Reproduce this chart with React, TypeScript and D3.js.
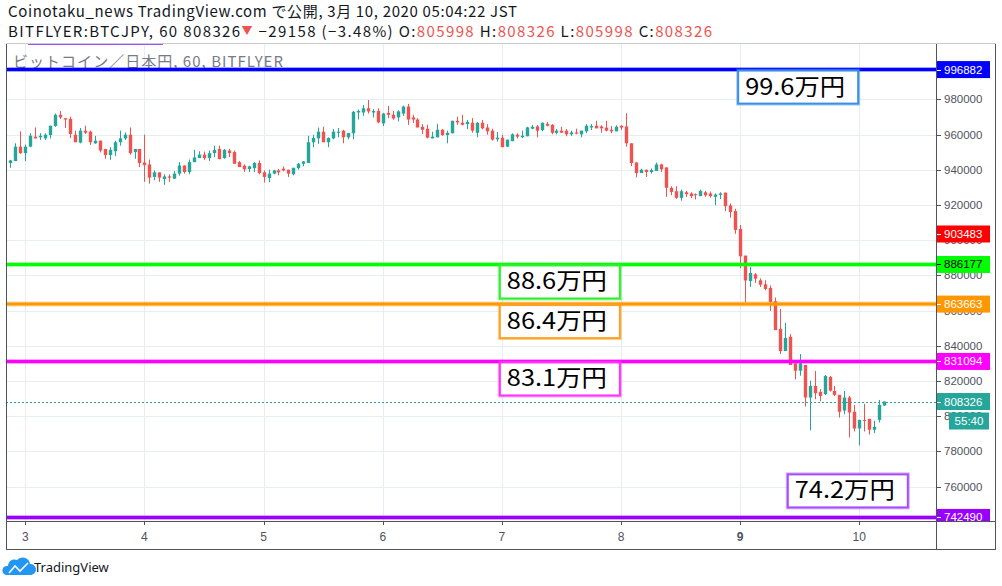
import { useMemo } from 'react';
import * as d3 from 'd3';

// hourly BTC/JPY candles [open, high, low, close], first bar = 2020-03-02 21:00 JST
const firstBar = Date.UTC(2020, 2, 2, 21);
const candles: [number, number, number, number][] = [
  [943800, 945600, 941100, 945300], [944900, 955000, 944900, 953100], [953100, 961800, 949000, 949400],
  [949400, 954300, 944900, 953100], [953100, 960700, 952800, 959300], [958800, 964000, 957800, 957800],
  [958400, 960800, 956900, 959300], [957800, 960700, 956900, 959900], [959700, 965000, 957800, 965000],
  [964800, 971900, 964400, 971200], [971200, 973400, 968900, 969700], [969300, 969300, 963700, 968500],
  [968900, 970100, 958000, 960300], [959900, 962200, 955600, 955600], [955400, 963700, 955000, 962200],
  [962200, 965000, 960300, 961000], [961600, 962200, 954100, 955600], [955000, 959200, 954700, 956500],
  [956500, 956500, 949800, 950900], [951800, 951800, 946200, 948300], [948300, 952800, 945600, 951300],
  [950500, 956500, 947700, 955600], [955600, 962200, 953700, 957800], [957800, 961200, 956900, 959900],
  [959900, 964000, 948500, 949400], [950000, 951800, 946200, 951800], [951800, 951800, 941500, 943800],
  [944100, 959900, 933100, 942600], [943000, 945800, 932100, 935500], [935900, 939600, 934000, 938500],
  [938500, 938500, 933100, 935500], [934700, 937400, 931400, 936200], [936200, 937400, 933100, 935500],
  [934900, 939300, 934700, 937800], [937800, 944300, 936600, 942400], [942400, 942400, 937800, 938700],
  [938700, 945800, 937400, 944300], [944300, 951300, 944300, 947000], [946600, 950500, 946600, 948600],
  [948600, 950300, 945600, 946600], [946600, 950900, 944900, 949400], [949400, 953700, 947100, 951300],
  [951800, 953700, 946000, 946000], [946600, 951800, 946200, 951300], [950900, 951800, 947100, 949400],
  [950000, 950900, 943400, 943400], [944300, 944900, 941500, 941500], [942300, 943000, 938700, 940200],
  [940400, 942300, 938700, 941900], [940900, 944300, 938700, 943800], [943800, 945300, 937400, 938100],
  [938500, 939600, 932700, 935900], [935300, 940000, 932900, 937800], [937800, 940000, 937400, 939600],
  [939600, 940400, 936800, 938500], [940600, 941900, 939100, 939600], [940000, 940000, 935900, 937800],
  [937400, 941100, 936800, 941100], [940900, 943800, 940000, 943400], [943400, 944900, 941900, 944700],
  [943800, 959300, 943800, 955600], [955600, 959900, 952800, 958000], [957800, 964000, 954700, 961600],
  [961600, 964400, 955600, 955600], [955600, 958400, 952800, 958000], [957800, 963100, 957300, 961600],
  [961000, 963700, 958400, 961600], [962200, 962700, 955000, 958400], [958400, 960800, 957300, 960800],
  [960700, 973400, 957300, 972900], [972500, 974200, 968500, 973400], [972500, 976800, 970600, 974900],
  [974900, 979600, 971900, 973100], [972500, 974400, 969700, 973400], [973400, 974900, 966300, 966900],
  [966300, 972300, 964800, 971900], [972300, 976200, 969300, 971200], [971200, 973400, 968400, 969100],
  [969700, 973800, 967400, 973100], [971900, 976400, 970600, 975900], [975900, 977400, 965500, 968500],
  [969700, 971200, 966500, 968500], [968500, 969300, 964000, 964000], [964400, 965900, 960300, 962700],
  [963300, 965500, 957800, 958200], [957800, 961600, 957800, 958800], [958400, 966100, 958400, 962700],
  [962700, 963100, 959200, 959700], [959700, 962200, 955000, 961000], [960700, 967800, 960700, 967800],
  [967800, 970100, 965500, 966900], [966700, 971200, 965200, 965500], [965900, 968200, 963100, 967200],
  [966700, 969300, 961000, 962200], [961000, 967000, 958400, 966700], [966700, 968200, 962900, 963500],
  [964000, 965900, 959900, 961800], [962200, 963300, 956500, 957100], [957300, 961400, 956000, 958200],
  [958200, 959900, 952800, 952800], [953100, 957100, 952800, 957100], [956200, 960700, 956200, 960100],
  [959900, 960700, 957800, 958800], [958400, 962200, 958000, 959300], [959000, 964400, 959000, 964000],
  [963300, 965500, 962900, 964400], [964600, 965400, 958400, 962200], [962500, 966700, 961800, 966700],
  [966100, 967200, 964600, 965000], [965500, 965900, 960100, 961000], [961000, 963100, 960100, 962200],
  [962200, 964400, 961000, 961000], [962200, 963100, 959000, 960100], [960100, 962200, 959200, 961200],
  [961200, 963300, 960100, 960500], [960100, 962200, 958400, 962200], [961800, 965900, 960700, 965000],
  [964000, 965900, 962500, 964800], [965000, 967800, 963500, 963500], [964600, 965200, 961000, 963500],
  [963900, 967800, 961800, 962200], [962700, 964800, 960700, 961800], [961800, 965200, 961800, 964400],
  [965000, 965200, 962500, 963900], [964600, 972100, 953100, 955000], [955000, 955000, 942100, 943800],
  [944100, 944100, 935700, 938100], [938100, 940600, 938100, 940000], [940000, 940000, 935900, 938700],
  [938700, 940800, 937800, 939800], [939300, 944100, 939300, 943000], [943000, 943400, 938700, 940200],
  [941300, 941300, 924600, 929700], [929700, 930600, 925500, 927400], [927800, 930600, 923500, 924000],
  [924000, 928700, 922400, 927800], [927200, 928000, 924600, 926100], [926500, 927200, 923900, 925000],
  [926100, 926500, 923100, 925500], [925000, 928700, 925000, 928000], [927200, 928000, 924600, 925500],
  [926500, 927600, 924200, 925000], [924600, 926500, 919900, 925900], [925700, 927200, 923300, 926500],
  [927000, 927000, 916500, 919300], [919700, 920800, 912800, 916000], [916500, 917800, 903600, 905800],
  [906400, 908600, 884000, 890800], [891200, 891200, 864900, 877100], [876800, 884700, 873400, 881300],
  [880600, 881300, 875700, 878100], [877200, 878300, 873400, 874700], [874900, 877200, 871500, 872300],
  [872800, 874200, 859800, 864900], [865300, 867400, 848900, 848900], [849600, 860900, 835300, 837000],
  [837000, 853000, 837000, 844500], [845100, 846600, 829100, 829100], [830000, 830000, 820900, 825800],
  [825800, 835300, 823000, 830000], [829100, 829100, 805500, 810600], [810600, 820200, 791900, 817200],
  [817200, 825700, 809600, 813000], [813800, 815300, 808500, 811500], [812500, 823400, 812100, 822800],
  [822300, 822800, 814000, 814500], [814300, 817200, 811500, 812100], [812100, 812100, 799200, 802500],
  [803200, 814300, 801100, 810600], [810600, 811500, 787900, 802100], [802500, 806400, 791300, 793000],
  [793000, 797900, 783400, 797900], [797900, 807000, 791300, 797400], [798500, 798500, 789600, 792300],
  [792300, 797400, 790400, 794000], [797900, 809200, 796400, 806400], [805998, 808326, 805998, 808326],
];

// horizontal levels drawn on the chart
const levelPrices = [996882, 886177, 863663, 831094, 742490];
const levelColors = ['#0000ff', '#00ff00', '#ff9800', '#ff00ff', '#9900ff'];
const levelTextColors = ['#ffffff', '#000000', '#ffffff', '#ffffff', '#ffffff'];

// text notes: label, anchor time (JST as UTC), anchor price
const noteTexts = ['99.6万円', '88.6万円', '86.4万円', '83.1万円', '74.2万円'];
const noteTimes = [Date.UTC(2020, 2, 9, 0), Date.UTC(2020, 2, 7, 0), Date.UTC(2020, 2, 7, 0), Date.UTC(2020, 2, 7, 0), Date.UTC(2020, 2, 9, 10)];
const notePrices = [996882, 886177, 863663, 831094, 767500];
const noteBorders = ['#3d8ee6', '#2ef02e', '#ffa126', '#ff33ff', '#a64dff'];

const priceTicks = d3.range(760000, 980001, 20000);
const lastPrice = 808326;
const prevMark = 903483;
const countdown = '55:40';

const UP = '#26a69a';
const DOWN = '#ef5350';
const GRID = '#e6edf3';
const FRAME = '#50535e';
const JP = "'Noto Sans CJK JP', 'Noto Sans', sans-serif";
const AX = "'Liberation Sans', Arial, sans-serif";

export default function App() {
  const L = 6, R = 936, T = 43, B = 521, AXB = 549, RR = 996;

  const x = useMemo(() => d3.scaleUtc()
    .domain([Date.UTC(2020, 2, 3), Date.UTC(2020, 2, 10)])
    .range([25.3, 859.3]), []);
  const y = useMemo(() => d3.scaleLinear()
    .domain([760000, 980000])
    .range([486.6, 99.3]), []);

  const days = d3.utcDay.range(Date.UTC(2020, 2, 3), Date.UTC(2020, 2, 11));
  const dayFmt = d3.utcFormat('%-d');

  const bars = candles.map((c, i) => ({ t: firstBar + i * 3600000, o: c[0], h: c[1], l: c[2], c: c[3] }));

  const axisLabel = (price: number, fill: string, txt: string, key: string) => {
    const cy = y(price);
    return (
      <g key={key}>
        <rect x={R + 1} y={cy - 8.5} width={53} height={17} fill={fill} />
        <line x1={R + 1} x2={R + 5} y1={Math.round(cy) + 0.5} y2={Math.round(cy) + 0.5} stroke={txt} />
        <text x={R + 8} y={cy} dy="0.35em" fontSize={11.5} fontFamily={AX} fill={txt}>{price}</text>
      </g>
    );
  };

  return (
    <svg width={1002} height={586} style={{ position: 'absolute', left: 0, top: 0, background: '#fff' }}>
      <defs>
        <clipPath id="plot"><rect x={L} y={T} width={R - L} height={B - T} /></clipPath>
        <clipPath id="axis"><rect x={R + 1} y={T} width={RR - R - 1} height={B - T} /></clipPath>
      </defs>
      <rect width={1002} height={586} fill="#fff" />

      {/* header */}
      <text x={8} y={17} fontSize={15} fontFamily={JP} fill="#131722" textLength={509} lengthAdjust="spacing">
        Coinotaku_news TradingView.com で公開, 3月 10, 2020 05:04:22 JST
      </text>
      <text x={8} y={37} fontSize={15} fontFamily={JP} fill="#131722" textLength={704} lengthAdjust="spacing">
        BITFLYER:BTCJPY, 60 808326<tspan fill={DOWN} fontSize={11} dy={-2}>▼</tspan>
        <tspan dy={2}> −29158 (−3.48%) O:</tspan><tspan fill={DOWN}>805998</tspan> H:<tspan fill={DOWN}>808326</tspan> L:<tspan fill={DOWN}>805998</tspan> C:<tspan fill={DOWN}>808326</tspan>
      </text>

      {/* grid */}
      <g clipPath="url(#plot)">
        {priceTicks.map(p => (
          <line key={p} x1={L} x2={R} y1={Math.round(y(p)) + 0.5} y2={Math.round(y(p)) + 0.5} stroke={GRID} />
        ))}
        {days.map(d => (
          <line key={+d} x1={Math.round(x(d)) + 0.5} x2={Math.round(x(d)) + 0.5} y1={T} y2={B} stroke={GRID} />
        ))}
      </g>

      <text x={13} y={67} fontSize={15} fontFamily={JP} fill="#787b86" textLength={270} lengthAdjust="spacing">ビットコイン／日本円, 60, BITFLYER</text>

      {/* candles */}
      <g clipPath="url(#plot)">
        {bars.map(b => {
          const cx = x(b.t);
          const col = b.c >= b.o ? UP : DOWN;
          const top = y(Math.max(b.o, b.c));
          const bot = y(Math.min(b.o, b.c));
          const wx = Math.round(cx) + 0.5;
          return (
            <g key={b.t}>
              <line x1={wx} x2={wx} y1={y(b.h)} y2={y(b.l)} stroke={col} />
              <rect x={wx - 1.7} y={top} width={3.4} height={Math.max(1, bot - top)} fill={col} />
            </g>
          );
        })}
      </g>

      {/* levels */}
      <g clipPath="url(#plot)">
        {levelPrices.map((p, i) => (
          <g key={p}>
            <line x1={L} x2={R} y1={y(p)} y2={y(p)} stroke={levelColors[i]} strokeOpacity={0.35} strokeWidth={5} />
            <line x1={L} x2={R} y1={y(p)} y2={y(p)} stroke={levelColors[i]} strokeWidth={3} />
          </g>
        ))}
        <line x1={L} x2={R} y1={Math.round(y(lastPrice)) + 0.5} y2={Math.round(y(lastPrice)) + 0.5} stroke={UP} strokeDasharray="2 2" />
      </g>

      {/* notes */}
      {noteTexts.map((t, i) => {
        const bx = x(noteTimes[i]) - 2;
        const by = y(notePrices[i]) + 1;
        return (
          <g key={t}>
            <rect x={bx} y={by} width={120} height={33} fill="#fff" stroke={noteBorders[i]} strokeOpacity={0.45} strokeWidth={4} />
            <rect x={bx} y={by} width={120} height={33} fill="#fff" stroke={noteBorders[i]} strokeWidth={2} />
            <text x={bx + 7} y={by + 24} fontSize={23} fontFamily={JP} fill="#000" textLength={100} lengthAdjust="spacingAndGlyphs">{t}</text>
          </g>
        );
      })}

      {/* purple drawing fragment above the pane */}
      <line x1={28} x2={163} y1={44} y2={44} stroke="#a64dff" strokeWidth={2} />

      {/* frame */}
      <line x1={L + 0.5} x2={L + 0.5} y1={T} y2={AXB} stroke={FRAME} />
      <line x1={RR - 0.5} x2={RR - 0.5} y1={T} y2={AXB} stroke={FRAME} />
      <line x1={R + 0.5} x2={R + 0.5} y1={T} y2={AXB} stroke={FRAME} />
      <line x1={L} x2={RR} y1={T + 0.5} y2={T + 0.5} stroke="#c8cbd2" />
      <line x1={L} x2={RR} y1={B + 0.5} y2={B + 0.5} stroke={FRAME} />
      <line x1={L} x2={RR} y1={AXB + 0.5} y2={AXB + 0.5} stroke={FRAME} />

      {/* price axis */}
      <g clipPath="url(#axis)">
        {priceTicks.map(p => (
          <g key={p}>
            <line x1={R + 1} x2={R + 5} y1={Math.round(y(p)) + 0.5} y2={Math.round(y(p)) + 0.5} stroke={FRAME} />
            <text x={R + 8} y={y(p)} dy="0.35em" fontSize={11.5} fontFamily={AX} fill={FRAME}>{p}</text>
          </g>
        ))}
        {axisLabel(prevMark, '#ff0000', '#ffffff', 'prev')}
        {levelPrices.map((p, i) => axisLabel(p, levelColors[i], levelTextColors[i], 'lv' + p))}
        {axisLabel(lastPrice, UP, '#ffffff', 'last')}
        <rect x={R + 13} y={y(lastPrice) + 11} width={40} height={17} fill={UP} />
        <text x={R + 33} y={y(lastPrice) + 19.5} dy="0.35em" textAnchor="middle" fontSize={11.5} fontFamily={AX} fill="#fff">{countdown}</text>
      </g>

      {/* time axis */}
      {days.map(d => (
        <g key={+d}>
          <line x1={Math.round(x(d)) + 0.5} x2={Math.round(x(d)) + 0.5} y1={B} y2={B + 4} stroke={FRAME} />
          <text x={x(d)} y={541} textAnchor="middle" fontSize={12} fontFamily={AX} fill={FRAME}
            fontWeight={d.getUTCDay() === 1 ? 'bold' : 'normal'}>{dayFmt(d)}</text>
        </g>
      ))}

      {/* footer logo */}
      <path d="M6,575 L31,575 A5.5,5.5 0 0 0 30,564 A7.5,7.5 0 0 0 17,560 A6.5,6.5 0 0 0 8,566 A4.5,4.5 0 0 0 6,575 Z" fill="#2196f3" />
      <path d="M9,573 L15,566 L20,571 L28,563" fill="none" stroke="#fff" strokeWidth={1.6} />
      <text x={34} y={572} fontSize={13} fontFamily="'Noto Sans', sans-serif" fill="#131722">TradingView</text>
    </svg>
  );
}
